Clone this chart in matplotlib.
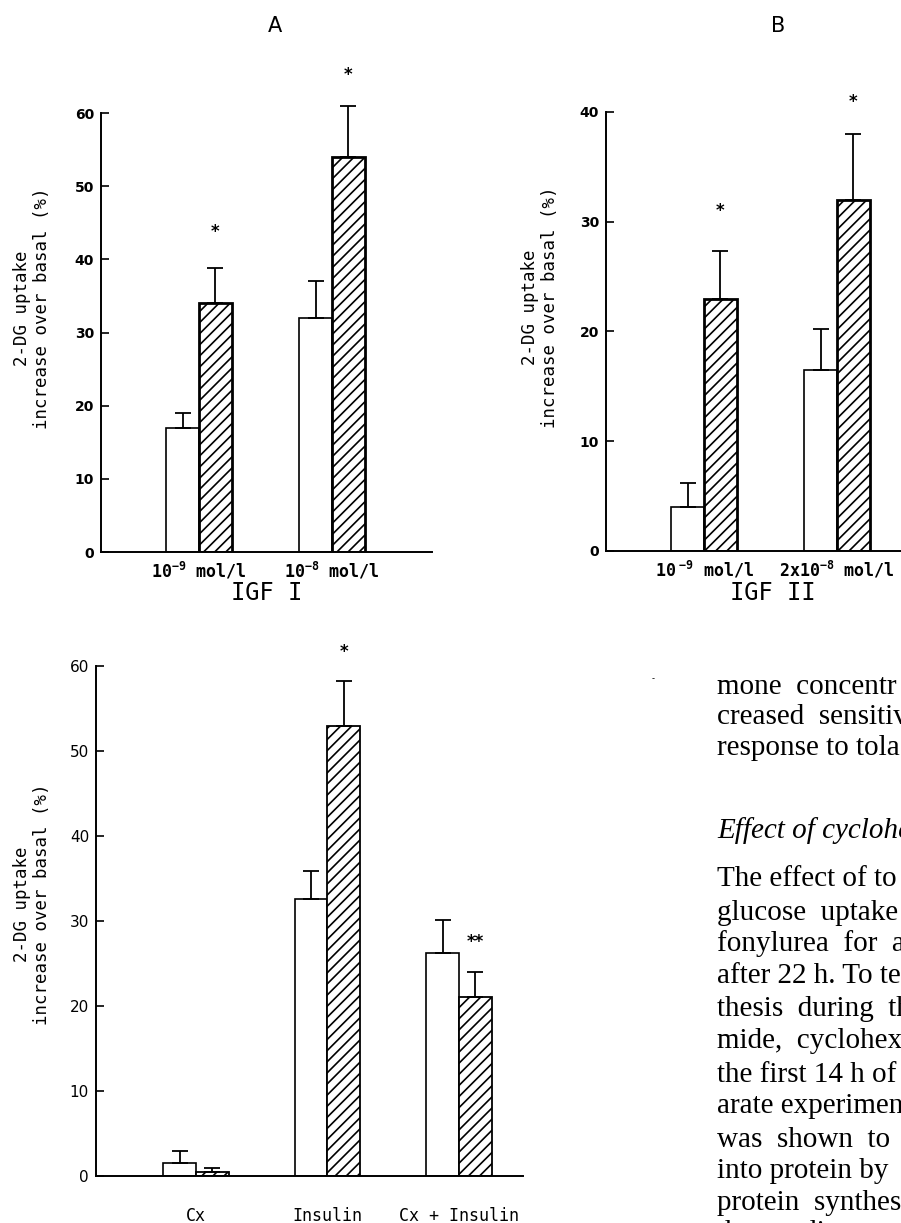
import numpy as np, matplotlib
matplotlib.use("Agg")
import matplotlib.pyplot as plt

plt.rcParams["hatch.linewidth"] = 1.2
plt.rcParams["mathtext.fontset"] = "custom"
plt.rcParams["mathtext.rm"] = "DejaVu Sans Mono"
plt.rcParams["mathtext.it"] = "DejaVu Sans Mono"
plt.rcParams["mathtext.bf"] = "DejaVu Sans Mono:bold"
plt.rcParams["mathtext.default"] = "bf"
MONO = "DejaVu Sans Mono"
W, H = 901, 1223

# panel A - IGF I (open = control, hatched = tolazamide)
a_labels = ["$10^{-9}$ mol/l", "$10^{-8}$ mol/l"]
a_open, a_open_sem = [17, 32], [2, 5]
a_hat, a_hat_sem = [34, 54], [4.8, 7]
a_stars, a_star_y = ["*", "*"], [43.7, 65.2]

# panel B - IGF II
b_labels = ["$10\\ ^{-9}$ mol/l", "$2x10^{-8}$ mol/l"]
b_open, b_open_sem = [4, 16.5], [2.2, 3.7]
b_hat, b_hat_sem = [23, 32], [4.3, 6]
b_stars, b_star_y = ["*", "*"], [31, 40.9]

# bottom panel - cycloheximide
c_labels = ["Cx", "Insulin", "Cx + Insulin"]
c_open, c_open_sem = [1.5, 32.6, 26.2], [1.4, 3.3, 3.9]
c_hat, c_hat_sem = [0.5, 53, 21.1], [0.4, 5.2, 2.9]
c_stars, c_star_y = ["", "*", "**"], [0, 61.7, 27.5]

YLAB = "2-DG uptake\nincrease over basal (%)"

def panel(rect, labels, op, op_sem, ht, ht_sem, stars, star_y, ymax, xlim,
          w=0.245, bold=True, tsize=10, lpad=6, edge=2.0):
    ax = fig.add_axes(rect)
    x = np.arange(len(labels))
    ax.bar(x - w/2, op, w, color="white", edgecolor="black", lw=1.2, zorder=2)
    ax.bar(x + w/2, ht, w, color="white", edgecolor="black", hatch="///", lw=edge, zorder=2)
    for xs, v, s in [(x - w/2, op, op_sem), (x + w/2, ht, ht_sem)]:
        eb = ax.errorbar(xs, v, yerr=[np.zeros(len(v)), s], fmt="none", ecolor="black",
                         elinewidth=1.3, capsize=6, capthick=1.3, zorder=3)
        for art in eb.get_children():
            art.set_clip_on(False)
    for xi, st, sy in zip(x + w/2, stars, star_y):
        ax.text(xi, sy, st, ha="center", va="center", fontsize=12, fontweight="bold", clip_on=False)
    ax.set_xlim(*xlim); ax.set_ylim(0, ymax)
    ax.set_yticks(range(0, ymax + 1, 10))
    ax.set_xticks(x, labels, family=MONO, fontsize=12,
                  fontweight="bold" if bold else "normal")
    ax.tick_params(axis="x", length=0, pad=lpad)
    ax.tick_params(axis="y", direction="in", length=6, width=1.2, labelsize=tsize, pad=5)
    for t in ax.get_yticklabels():
        t.set_fontweight("bold" if bold else "normal")
    for s in ["top", "right"]:
        ax.spines[s].set_visible(False)
    for s in ["left", "bottom"]:
        ax.spines[s].set_linewidth(1.4)
    ax.patch.set_alpha(0)
    return ax

def fx(px): return px / W
def fy(py): return 1 - py / H

fig = plt.figure(figsize=(W / 100, H / 100), dpi=100)

panel([fx(101), fy(552), 331 / W, 439 / H], a_labels, a_open, a_open_sem, a_hat, a_hat_sem,
      a_stars, a_star_y, 60, (-0.737, 1.752))
panel([fx(606), fy(551), 331 / W, 439 / H], b_labels, b_open, b_open_sem, b_hat, b_hat_sem,
      b_stars, b_star_y, 40, (-0.737, 1.752))
panel([fx(96), fy(1176), 427 / W, 510 / H], c_labels, c_open, c_open_sem, c_hat, c_hat_sem,
      c_stars, c_star_y, 60, (-0.76, 2.487), w=0.25, bold=False, tsize=11, lpad=22, edge=1.3)

for xp, yp in [(32, 308), (540, 307), (32, 904)]:
    fig.text(fx(xp), fy(yp), YLAB, rotation=90, ha="center", va="center",
             family=MONO, fontsize=12.5, multialignment="center", linespacing=1.15)

fig.text(fx(275), fy(26), "A", ha="center", va="center", fontsize=15)
fig.text(fx(778), fy(26), "B", ha="center", va="center", fontsize=15)
fig.text(fx(267), fy(593), "IGF I", ha="center", va="center", family=MONO, fontsize=17)
fig.text(fx(773), fy(593), "IGF II", ha="center", va="center", family=MONO, fontsize=17)
fig.text(fx(653), fy(679), "-", ha="center", va="center", fontsize=6)

# running text of the page, cut at the right edge
body = [("mone  concentr", 687, "normal"), ("creased  sensitiv", 717, "normal"),
        ("response to tola", 748, "normal"), ("Effect of cyclohe", 831, "italic"),
        ("The effect of to", 879, "normal"), ("glucose  uptake", 913, "normal"),
        ("fonylurea  for  a", 944, "normal"), ("after 22 h. To te", 976, "normal"),
        ("thesis  during  th", 1009, "normal"), ("mide,  cyclohex", 1041, "normal"),
        ("the first 14 h of", 1075, "normal"), ("arate experimen", 1106, "normal"),
        ("was  shown  to  i", 1140, "normal"), ("into protein by", 1171, "normal"),
        ("protein  synthes", 1203, "normal"), ("the  medium  at", 1233, "normal")]
for txt, yp, sty in body:
    fig.text(fx(717), fy(yp), txt, ha="left", va="center", family="Liberation Serif",
             fontsize=21, style=sty)

fig.savefig("out.png", dpi=100)
